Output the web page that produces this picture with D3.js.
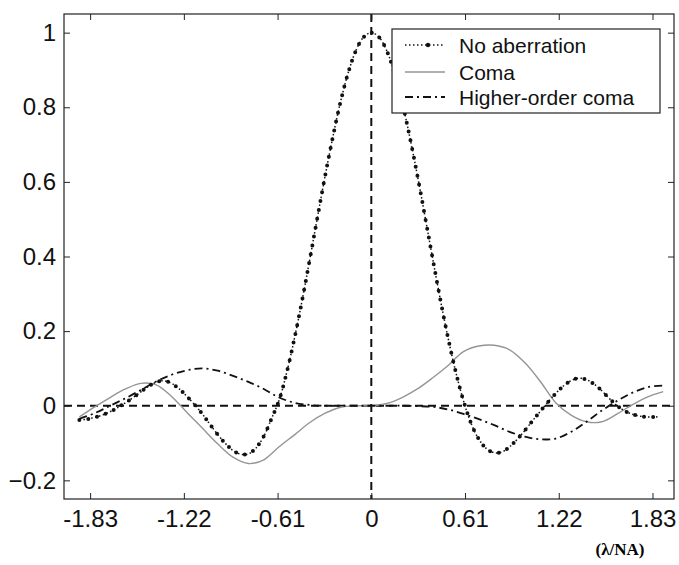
<!DOCTYPE html>
<html lang="en">
<head>
<meta charset="utf-8">
<script src="https://cdn.jsdelivr.net/npm/d3@7/dist/d3.min.js"></script>
<style>
  body { margin: 0; background: #fff; }
  svg { display: block; }
  .axis text { font-family: "Liberation Sans", Arial, sans-serif; font-size: 24px; fill: #111; }
  .axis path, .axis line { stroke: #222; }
</style>
</head>
<body>
<div id="chart"></div>
<script>
// x positions (lambda/NA) for the finely sampled ideal PSF
const xFine = [-1.9, -1.85, -1.8, -1.75, -1.7, -1.65, -1.6, -1.55, -1.5, -1.45, -1.4, -1.35, -1.3, -1.25,
  -1.2, -1.15, -1.1, -1.05, -1.0, -0.95, -0.9, -0.85, -0.8, -0.75, -0.7, -0.65, -0.6, -0.55, -0.5, -0.45,
  -0.4, -0.35, -0.3, -0.25, -0.2, -0.15, -0.1, -0.05, 0, 0.05, 0.1, 0.15, 0.2, 0.25, 0.3, 0.35, 0.4, 0.45,
  0.5, 0.55, 0.6, 0.65, 0.7, 0.75, 0.8, 0.85, 0.9, 0.95, 1.0, 1.05, 1.1, 1.15, 1.2, 1.25, 1.3, 1.35, 1.4,
  1.45, 1.5, 1.55, 1.6, 1.65, 1.7, 1.75, 1.8, 1.85, 1.88];
const noAberration = [-0.038, -0.036, -0.031, -0.025, -0.016, -0.005, 0.008, 0.022, 0.037, 0.052, 0.063, 0.067, 0.06, 0.045,
  0.025, 0.003, -0.022, -0.05, -0.077, -0.101, -0.12, -0.13, -0.129, -0.113, -0.082, -0.035, 0.015, 0.09, 0.181, 0.283,
  0.393, 0.506, 0.617, 0.721, 0.815, 0.893, 0.952, 0.988, 1.0, 0.988, 0.952, 0.893, 0.815, 0.721, 0.617, 0.506, 0.393, 0.283,
  0.181, 0.09, 0.013, -0.048, -0.09, -0.115, -0.126, -0.124, -0.11, -0.09, -0.066, -0.04, -0.015, 0.01, 0.033, 0.053, 0.067, 0.074, 0.07,
  0.058, 0.04, 0.019, 0.0, -0.014, -0.023, -0.028, -0.03, -0.03, -0.029];

// coarser x positions for the aberrated PSFs
const xCoarse = [-1.9, -1.8, -1.7, -1.6, -1.5, -1.4, -1.3, -1.2, -1.1, -1.0, -0.9, -0.8, -0.7, -0.6, -0.5, -0.4, -0.3, -0.2, -0.1,
  0, 0.1, 0.2, 0.3, 0.4, 0.5, 0.6, 0.7, 0.8, 0.9, 1.0, 1.1, 1.2, 1.3, 1.4, 1.5, 1.6, 1.7, 1.8, 1.9];
const coma = [-0.03, -0.003, 0.022, 0.045, 0.06, 0.056, 0.025, -0.018, -0.06, -0.102, -0.138, -0.155, -0.145, -0.11, -0.078, -0.045, -0.02, -0.004, 0,
  0, 0.006, 0.022, 0.045, 0.075, 0.108, 0.145, 0.16, 0.162, 0.15, 0.115, 0.065, 0.008, -0.025, -0.043, -0.043, -0.022, 0.003, 0.024, 0.038];
const higherOrderComa = [-0.035, -0.02, 0.0, 0.02, 0.042, 0.065, 0.083, 0.095, 0.1, 0.094, 0.08, 0.064, 0.045, 0.022, 0.008, 0.002, 0, 0, 0,
  0, 0, 0, -0.001, -0.003, -0.01, -0.022, -0.036, -0.052, -0.07, -0.083, -0.09, -0.088, -0.07, -0.043, -0.013, 0.013, 0.035, 0.05, 0.054];

const xTicks = [-1.83, -1.22, -0.61, 0, 0.61, 1.22, 1.83];
const xTickLabels = ["-1.83", "-1.22", "-0.61", "0", "0.61", "1.22", "1.83"];
const yTicks = [-0.2, 0, 0.2, 0.4, 0.6, 0.8, 1];
const legendLabels = ["No aberration", "Coma", "Higher-order coma"];

const width = 679, height = 565;
const plotL = 64, plotR = 674, plotT = 14, plotB = 499;

const svg = d3.select("#chart").append("svg")
  .attr("width", width).attr("height", height);

const x = d3.scaleLinear().domain([-2.0, 1.97]).range([plotL, plotR]);
const y = d3.scaleLinear().domain([-0.25, 1.05]).range([plotB, plotT]);

const toPts = (xs, ys) => xs.map((d, i) => [d, ys[i]]);
const line = d3.line().x(d => x(d[0])).y(d => y(d[1])).curve(d3.curveCatmullRom);

// dashed zero lines
svg.append("line")
  .attr("x1", plotL).attr("x2", plotR).attr("y1", y(0)).attr("y2", y(0))
  .attr("stroke", "#111").attr("stroke-width", 2).attr("stroke-dasharray", "8,5");
svg.append("line")
  .attr("x1", x(0)).attr("x2", x(0)).attr("y1", plotT).attr("y2", plotB)
  .attr("stroke", "#111").attr("stroke-width", 2).attr("stroke-dasharray", "8,5");

// coma (thin grey)
svg.append("path").datum(toPts(xCoarse, coma))
  .attr("d", line).attr("fill", "none")
  .attr("stroke", "#959595").attr("stroke-width", 1.4);

// higher-order coma (dash-dot)
svg.append("path").datum(toPts(xCoarse, higherOrderComa))
  .attr("d", line).attr("fill", "none")
  .attr("stroke", "#111").attr("stroke-width", 1.8).attr("stroke-dasharray", "8,4,2,4");

// no aberration: dotted line plus dot markers
const noAbPts = toPts(xFine, noAberration);
svg.append("path").datum(noAbPts)
  .attr("d", line).attr("fill", "none")
  .attr("stroke", "#111").attr("stroke-width", 1.5).attr("stroke-dasharray", "1.5,2.5");
svg.append("path").datum(noAbPts)
  .attr("d", line).attr("fill", "none")
  .attr("stroke", "#111").attr("stroke-width", 4).attr("stroke-linecap", "round")
  .attr("stroke-dasharray", "0,9");

// axes (box with inward ticks)
svg.append("g").attr("class", "axis").attr("transform", `translate(0,${plotB})`)
  .call(d3.axisBottom(x).tickValues(xTicks).tickFormat((d, i) => xTickLabels[i]).tickSizeInner(-6).tickSizeOuter(0).tickPadding(11));
svg.append("g").attr("class", "axis").attr("transform", `translate(0,${plotT})`)
  .call(d3.axisTop(x).tickValues(xTicks).tickFormat("").tickSizeInner(-6).tickSizeOuter(0));
svg.append("g").attr("class", "axis").attr("transform", `translate(${plotL},0)`)
  .call(d3.axisLeft(y).tickValues(yTicks).tickFormat(d3.format("")).tickSizeInner(-6).tickSizeOuter(0).tickPadding(8));
svg.append("g").attr("class", "axis").attr("transform", `translate(${plotR},0)`)
  .call(d3.axisRight(y).tickValues(yTicks).tickFormat("").tickSizeInner(-6).tickSizeOuter(0));
svg.selectAll(".axis .domain").remove();
svg.append("rect").attr("x", plotL).attr("y", plotT).attr("width", plotR - plotL).attr("height", plotB - plotT)
  .attr("fill", "none").attr("stroke", "#222").attr("stroke-width", 1.2);

// unit label
svg.append("text").attr("x", 620).attr("y", 555).attr("text-anchor", "middle")
  .attr("font-family", "Liberation Serif, Times New Roman, serif").attr("font-size", 17).attr("font-weight", "bold")
  .text("(λ/NA)");

// legend
const lg = svg.append("g").attr("transform", "translate(392,29)");
lg.append("rect").attr("width", 268).attr("height", 84).attr("fill", "#fff").attr("stroke", "#222").attr("stroke-width", 1.2);
const rowY = [16, 43, 68];
const styles = [
  { stroke: "#111", w: 1.5, dash: "1.5,2.5" },
  { stroke: "#959595", w: 1.4, dash: null },
  { stroke: "#111", w: 1.8, dash: "8,4,2,4" }
];
legendLabels.forEach((name, i) => {
  lg.append("line").attr("x1", 13).attr("x2", 53).attr("y1", rowY[i]).attr("y2", rowY[i])
    .attr("stroke", styles[i].stroke).attr("stroke-width", styles[i].w)
    .attr("stroke-dasharray", styles[i].dash);
  lg.append("text").attr("x", 67).attr("y", rowY[i]).attr("dy", "0.36em")
    .attr("font-family", "Liberation Sans, Arial, sans-serif").attr("font-size", 21).attr("fill", "#111")
    .text(name);
});
lg.append("circle").attr("cx", 36).attr("cy", rowY[0]).attr("r", 2.2).attr("fill", "#111");
</script>
</body>
</html>
